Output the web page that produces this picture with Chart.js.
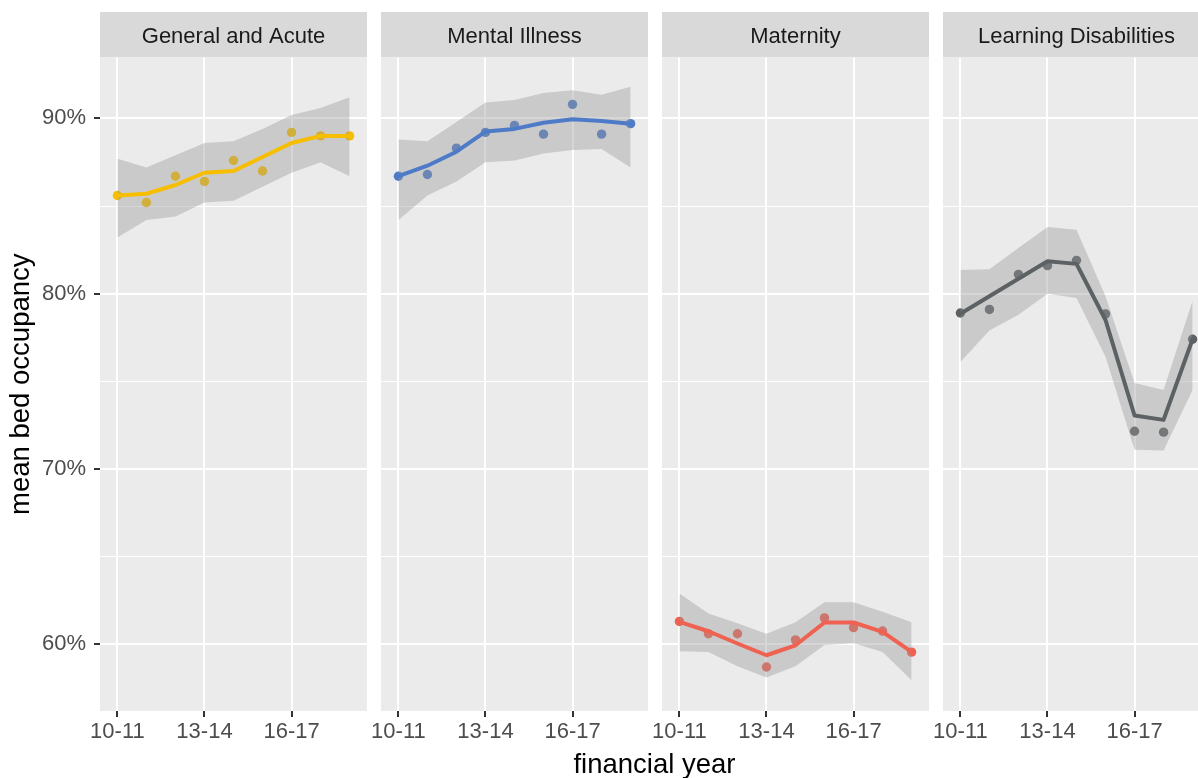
<!DOCTYPE html>
<html>
<head>
<meta charset="utf-8">
<script src="https://cdn.jsdelivr.net/npm/chart.js@4.4.1/dist/chart.umd.min.js"></script>
<style>
html,body{margin:0;padding:0;background:#ffffff;overflow:hidden;}
#wrap{position:relative;width:1198px;height:778px;overflow:hidden;background:#ffffff;}
#wrap canvas{position:absolute;top:0;}
#xtitle{position:absolute;left:454.5px;width:400px;top:749.5px;height:28px;line-height:27.5px;
  text-align:center;font-family:'Liberation Sans',Arial,sans-serif;font-size:27.5px;color:#000000;white-space:nowrap;}
</style>
</head>
<body>
<div id="wrap">
  <canvas id="c0" width="367" height="778" style="left:0px;width:367px;height:778px"></canvas>
  <canvas id="c1" width="281" height="778" style="left:367px;width:281px;height:778px"></canvas>
  <canvas id="c2" width="281" height="778" style="left:648px;width:281px;height:778px"></canvas>
  <canvas id="c3" width="281" height="778" style="left:929px;width:281px;height:778px"></canvas>
  <div id="xtitle">financial year</div>
</div>
<script>
// ---- data ----
const categories = ['10-11','11-12','12-13','13-14','14-15','15-16','16-17','17-18','18-19'];
const xTickLabels = ['10-11','13-14','16-17'];
const yTickValues = [60, 70, 80, 90];
const yTickLabels = ['60%', '70%', '80%', '90%'];
const yMinorValues = [65, 75, 85];
const facetNames = ['General and Acute', 'Mental Illness', 'Maternity', 'Learning Disabilities'];

const generalPoints = [85.6, 85.2, 86.7, 86.4, 87.6, 87.0, 89.2, 89.0, 89.0];
const generalSmooth = [85.6, 85.7, 86.2, 86.9, 87.0, 87.8, 88.6, 89.0, 89.0];
const generalUpper  = [87.7, 87.2, 87.9, 88.6, 88.7, 89.4, 90.2, 90.6, 91.2];
const generalLower  = [83.2, 84.2, 84.4, 85.2, 85.3, 86.1, 86.9, 87.5, 86.7];

const mentalPoints = [86.7, 86.8, 88.3, 89.2, 89.6, 89.1, 90.8, 89.1, 89.7];
const mentalSmooth = [86.7, 87.3, 88.1, 89.25, 89.4, 89.75, 89.95, 89.85, 89.7];
const mentalUpper  = [88.8, 88.7, 89.8, 90.9, 91.05, 91.45, 91.6, 91.35, 91.8];
const mentalLower  = [84.2, 85.6, 86.4, 87.5, 87.6, 88.0, 88.2, 88.25, 87.2];

const maternityPoints = [61.3, 60.6, 60.6, 58.7, 60.25, 61.5, 60.95, 60.75, 59.55];
const maternitySmooth = [61.27, 60.74, 60.04, 59.37, 59.94, 61.24, 61.24, 60.7, 59.56];
const maternityUpper  = [62.9, 61.75, 61.2, 60.6, 61.25, 62.4, 62.4, 61.85, 61.25];
const maternityLower  = [59.6, 59.55, 58.75, 58.1, 58.75, 59.95, 60.05, 59.55, 57.95];

const ldPoints = [78.9, 79.1, 81.1, 81.6, 81.9, 78.85, 72.15, 72.1, 77.4];
const ldSmooth = [78.85, 79.85, 80.85, 81.85, 81.7, 78.5, 73.05, 72.8, 77.4];
const ldUpper  = [81.35, 81.4, 82.6, 83.8, 83.65, 79.85, 74.9, 74.5, 79.6];
const ldLower  = [76.1, 77.9, 78.8, 80.0, 79.75, 76.4, 71.1, 71.05, 74.5];

const seriesColors = ['#F7BE00', '#4D7BC8', '#EF6150', '#5C6164'];

// ---- drawing ----
const FONT = "'Liberation Sans', Arial, sans-serif";
const ribbonFill = 'rgba(153,153,153,0.4)';

const panelBg = {
  id: 'panelBg',
  beforeDraw(chart) {
    const {ctx, chartArea: a} = chart;
    ctx.save();
    ctx.fillStyle = '#D9D9D9';
    ctx.fillRect(a.left, 12, a.right - a.left, a.top - 12);
    ctx.fillStyle = '#EBEBEB';
    ctx.fillRect(a.left, a.top, a.right - a.left, a.bottom - a.top);
    ctx.restore();
  }
};

function toXY(arr) { return arr.map((v, i) => ({x: i + 1, y: v})); }

function makePanel(canvasId, idx, pts, smooth, upper, lower) {
  const first = idx === 0;
  const color = seriesColors[idx];
  const yw = first ? 100 : 14;
  return new Chart(document.getElementById(canvasId), {
    type: 'line',
    data: {
      datasets: [
        {data: toXY(smooth), borderColor: color, borderWidth: 4, pointRadius: 0, fill: false, tension: 0, order: 1,
         borderCapStyle: 'round', borderJoinStyle: 'round'},
        {data: toXY(upper), borderColor: 'rgba(0,0,0,0)', borderWidth: 0, pointRadius: 0, backgroundColor: ribbonFill, fill: '+1', tension: 0, order: 2},
        {data: toXY(lower), borderColor: 'rgba(0,0,0,0)', borderWidth: 0, pointRadius: 0, fill: false, tension: 0, order: 2},
        {data: toXY(pts), showLine: false, pointRadius: 4.7, pointBorderWidth: 0, pointBackgroundColor: color, pointBorderColor: color, fill: false, order: 3}
      ]
    },
    options: {
      responsive: false,
      animation: false,
      devicePixelRatio: 1,
      layout: {autoPadding: false, padding: {top: 12, left: 0, right: 0, bottom: 0}},
      plugins: {
        legend: {display: false},
        tooltip: {enabled: false},
        title: {display: true, text: facetNames[idx], fullSize: false, color: '#1A1A1A',
                font: {family: FONT, size: 22, weight: 'normal'}, padding: {top: 12, bottom: 7}}
      },
      scales: {
        x: {
          type: 'linear', min: 0.4, max: 9.6,
          afterBuildTicks(s) { s.ticks = xTickLabels.map(l => ({value: categories.indexOf(l) + 1})); },
          afterFit(s) { s.height = 67; },
          ticks: {autoSkip: false, maxRotation: 0, minRotation: 0, padding: 2, color: '#4D4D4D',
                  font: {family: FONT, size: 22}, callback: (v) => categories[Math.round(v) - 1]},
          grid: {color: '#FFFFFF', lineWidth: 2, drawTicks: true, tickLength: 6, tickWidth: 2, tickColor: '#333333'},
          border: {display: false}
        },
        y: {
          type: 'linear', min: 56.19, max: 93.48,
          afterBuildTicks(s) {
            s.ticks = yTickValues.concat(yMinorValues).sort((a, b) => a - b).map(v => ({value: v}));
          },
          afterFit(s) { s.width = yw; },
          ticks: {display: first, padding: 8, color: '#4D4D4D', font: {family: FONT, size: 22},
                  callback: (v) => { const i = yTickValues.indexOf(v); return i >= 0 ? yTickLabels[i] : ''; }},
          grid: {
            color: '#FFFFFF',
            lineWidth: (c) => (c.tick && yTickValues.includes(c.tick.value)) ? 2 : 1,
            drawTicks: first, tickLength: 6, tickWidth: 2,
            tickColor: (c) => (c.tick && yTickValues.includes(c.tick.value)) ? '#333333' : 'rgba(0,0,0,0)'
          },
          border: {display: false},
          title: {display: first, text: 'mean bed occupancy', color: '#000000',
                  font: {family: FONT, size: 27.5}, padding: {top: 5, bottom: 0}}
        }
      }
    },
    plugins: [panelBg]
  });
}

makePanel('c0', 0, generalPoints, generalSmooth, generalUpper, generalLower);
makePanel('c1', 1, mentalPoints, mentalSmooth, mentalUpper, mentalLower);
makePanel('c2', 2, maternityPoints, maternitySmooth, maternityUpper, maternityLower);
makePanel('c3', 3, ldPoints, ldSmooth, ldUpper, ldLower);
</script>
</body>
</html>
